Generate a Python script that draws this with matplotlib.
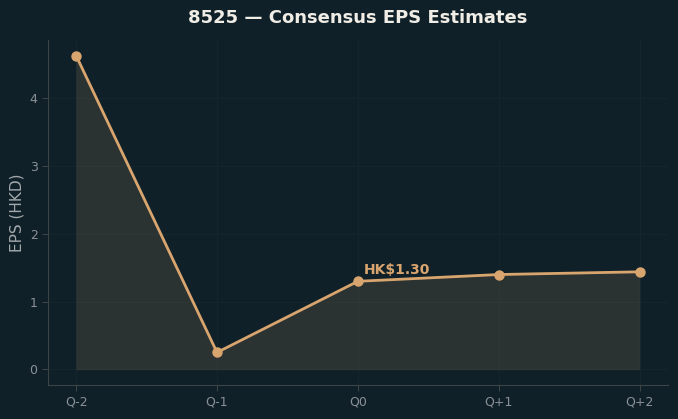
import matplotlib
matplotlib.use("Agg")
import matplotlib.pyplot as plt

quarters = ["Q-2", "Q-1", "Q0", "Q+1", "Q+2"]
eps = [4.63, 0.25, 1.30, 1.40, 1.44]
current_label = "HK$1.30"
current_idx = 2

bg = "#0f2028"
line_color = "#d9a56f"
text_color = "#8b9196"
spine_color = "#3c4446"

fig = plt.figure(figsize=(6.78, 4.19), dpi=100, facecolor=bg)
ax = fig.add_axes([0.0708, 0.081, 0.914, 0.8235])
ax.set_facecolor(bg)

x = list(range(len(quarters)))
ax.fill_between(x, eps, 0, color="#d9a56f", alpha=0.14, edgecolor="#4a4a42", linewidth=1)
ax.plot(x, eps, color=line_color, linewidth=2, marker="o", markersize=6.5)

ax.annotate(current_label, (x[current_idx], eps[current_idx]), xytext=(4, 5),
            textcoords="offset points", color=line_color, fontsize=10, fontweight="bold")

ax.set_xticks(x)
ax.set_xticklabels(quarters)
ax.set_yticks([0, 1, 2, 3, 4])
ax.tick_params(colors=text_color, labelsize=9, length=4, color=spine_color)
ax.grid(True, color="#15282f", linewidth=0.6)
ax.set_axisbelow(True)

for side in ["top", "right"]:
    ax.spines[side].set_visible(False)
for side in ["left", "bottom"]:
    ax.spines[side].set_color(spine_color)

ax.set_ylabel("EPS (HKD)", color="#a3a8ab", fontsize=11)
ax.set_title("8525 — Consensus EPS Estimates", color="#f0ede6", fontsize=13,
             fontweight="bold", pad=12)

fig.savefig("out.png", dpi=100, facecolor=bg)
